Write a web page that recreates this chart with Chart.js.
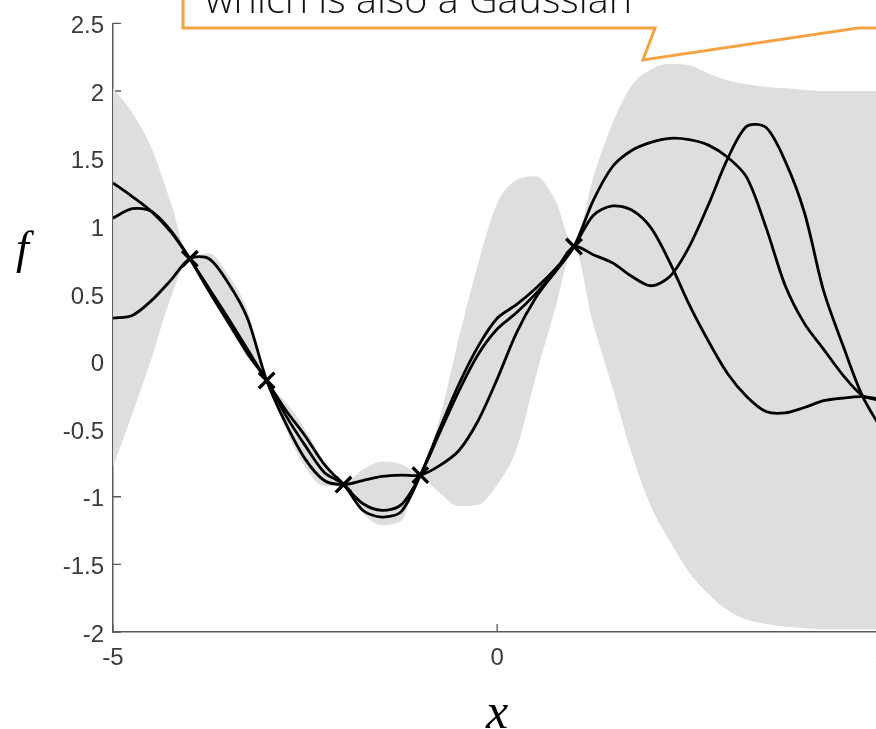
<!DOCTYPE html>
<html>
<head>
<meta charset="utf-8">
<script src="https://cdn.jsdelivr.net/npm/chart.js@4/dist/chart.umd.min.js"></script>
<style>
  html, body { margin: 0; padding: 0; background: #fff; overflow: hidden; }
  #wrap { position: relative; width: 876px; height: 729px; overflow: hidden; }
  #plot { position: absolute; left: 0; top: 0; }
  .lab { position: absolute; font-family: "Liberation Serif", serif; font-style: italic; line-height: 1; color: #000; }
  #callout { position: absolute; left: 0; top: 0; }
</style>
</head>
<body>
<div id="wrap">
  <canvas id="plot" width="900" height="729"></canvas>
  <div class="lab" id="flab" style="left:16px; top:225px; font-size:46px;">f</div>
  <div class="lab" id="xlab" style="left:467px; top:686px; width:60px; text-align:center; font-size:50px;">x</div>
  <svg id="callout" width="876" height="80">
    <path d="M183,-10 L183,28 L655,28 L643,60 L858,28 L890,28" fill="none" stroke="#f3a343" stroke-width="3" stroke-linejoin="miter"/>
    <text x="205" y="13" font-family="Open Sans" font-weight="300" font-size="38" textLength="427" lengthAdjust="spacingAndGlyphs" fill="#111">which is also a Gaussian</text>
  </svg>
</div>
<script>
// grid of test inputs
const xGrid = [-5, -4.75, -4.5, -4.25, -4, -3.75, -3.5, -3.25, -3, -2.75, -2.5, -2.25, -2,
  -1.75, -1.5, -1.25, -1, -0.75, -0.5, -0.25, 0, 0.25, 0.5, 0.75, 1, 1.25, 1.5, 1.75, 2,
  2.25, 2.5, 2.75, 3, 3.25, 3.5, 3.75, 4, 4.25, 4.5, 4.75, 5];

// shaded band (mean +/- 2 sd)
const bandUpper = [2.02, 1.84, 1.58, 1.18, 0.77, 0.80, 0.64, 0.38, -0.13, -0.30, -0.50, -0.74, -0.90,
  -0.80, -0.74, -0.76, -0.83, -0.42, 0.17, 0.72, 1.17, 1.34, 1.37, 1.20, 0.86, 1.36, 1.76, 2.04, 2.16,
  2.20, 2.19, 2.13, 2.08, 2.05, 2.03, 2.02, 2.01, 2.00, 2.00, 2.00, 2.00];
const bandLower = [-0.78, -0.39, 0.02, 0.47, 0.75, 0.50, 0.26, 0.03, -0.15, -0.50, -0.78, -0.92, -0.92,
  -1.12, -1.21, -1.18, -0.86, -0.97, -1.07, -1.06, -0.91, -0.65, -0.12, 0.38, 0.84, 0.28, -0.19, -0.68, -1.07,
  -1.33, -1.56, -1.72, -1.84, -1.91, -1.94, -1.96, -1.97, -1.98, -1.98, -1.98, -1.98];

// posterior samples
const sample1 = [1.32, 1.22, 1.11, 0.96, 0.76, 0.54, 0.32, 0.09, -0.14, -0.36, -0.55, -0.76, -0.91,
  -1.05, -1.10, -1.06, -0.84, -0.53, -0.22, 0.05, 0.24, 0.36, 0.50, 0.66, 0.85, 1.19, 1.44, 1.56, 1.62,
  1.65, 1.64, 1.60, 1.51, 1.36, 0.99, 0.56, 0.28, 0.09, -0.10, -0.25, -0.29];
const sample2 = [1.06, 1.13, 1.11, 0.97, 0.76, 0.52, 0.29, 0.06, -0.14, -0.40, -0.62, -0.82, -0.91,
  -1.10, -1.15, -1.11, -0.84, -0.50, -0.17, 0.11, 0.32, 0.42, 0.54, 0.68, 0.85, 1.08, 1.15, 1.12, 0.99,
  0.73, 0.42, 0.15, -0.09, -0.26, -0.37, -0.38, -0.34, -0.29, -0.27, -0.26, -0.28];
const sample3 = [0.32, 0.34, 0.45, 0.60, 0.76, 0.76, 0.58, 0.32, -0.14, -0.46, -0.72, -0.88, -0.91,
  -0.88, -0.85, -0.84, -0.84, -0.77, -0.66, -0.44, -0.13, 0.21, 0.47, 0.66, 0.85, 0.79, 0.73, 0.63, 0.56,
  0.63, 0.85, 1.16, 1.50, 1.74, 1.73, 1.48, 1.10, 0.52, 0.12, -0.25, -0.50];

// observed points
const trainX = [-4, -3, -2, -1, 1];
const trainY = [0.76, -0.14, -0.91, -0.84, 0.85];

// axis ticks
const xTicks = [-5, 0, 5];
const yTicks = [-2, -1.5, -1, -0.5, 0, 0.5, 1, 1.5, 2, 2.5];

function pts(ys) {
  return xGrid.map((x, i) => ({ x: x, y: ys[i] }));
}

function sampleLine(ys) {
  return {
    data: pts(ys),
    borderColor: "#000",
    borderWidth: 2.8,
    pointRadius: 0,
    fill: false,
    tension: 0.3,
    order: 2,
  };
}

const inwardTicks = {
  id: "inwardTicks",
  beforeDatasetsDraw(chart) {
    const { ctx, chartArea, scales } = chart;
    ctx.save();
    ctx.strokeStyle = "#5a5a5a";
    ctx.lineWidth = 1.3;
    ctx.beginPath();
    scales.y.ticks.forEach((t) => {
      const py = scales.y.getPixelForValue(t.value);
      ctx.moveTo(chartArea.left, py);
      ctx.lineTo(chartArea.left + 8, py);
    });
    scales.x.ticks.forEach((t) => {
      const px = scales.x.getPixelForValue(t.value);
      ctx.moveTo(px, chartArea.bottom);
      ctx.lineTo(px, chartArea.bottom - 8);
    });
    ctx.stroke();
    ctx.restore();
  },
};

const tickFont = { family: "'Liberation Sans', Arial, sans-serif", size: 24 };

new Chart(document.getElementById("plot"), {
  type: "line",
  data: {
    datasets: [
      {
        data: trainX.map((x, i) => ({ x: x, y: trainY[i] })),
        showLine: false,
        pointStyle: "crossRot",
        pointRadius: 11,
        pointBorderWidth: 3.4,
        pointBorderColor: "#000",
        order: 1,
      },
      sampleLine(sample1),
      sampleLine(sample2),
      sampleLine(sample3),
      {
        data: pts(bandUpper),
        borderWidth: 0,
        pointRadius: 0,
        backgroundColor: "#dedede",
        fill: "+1",
        cubicInterpolationMode: "monotone",
        order: 3,
      },
      {
        data: pts(bandLower),
        borderWidth: 0,
        pointRadius: 0,
        fill: false,
        cubicInterpolationMode: "monotone",
        order: 4,
      },
    ],
  },
  options: {
    responsive: false,
    animation: false,
    devicePixelRatio: 1,
    layout: { padding: { top: 22, right: 15, left: 0, bottom: 0 } },
    plugins: { legend: { display: false }, tooltip: { enabled: false } },
    scales: {
      x: {
        type: "linear",
        min: -5,
        max: 5,
        afterBuildTicks: (s) => { s.ticks = xTicks.map((v) => ({ value: v })); },
        afterFit: (s) => { s.height = 97; },
        grid: { display: false, drawTicks: false },
        border: { display: true, color: "#5a5a5a", width: 1.5 },
        ticks: { font: tickFont, color: "#3a3a3a", padding: 12, maxRotation: 0, callback: (v) => String(v) },
      },
      y: {
        type: "linear",
        min: -2,
        max: 2.5,
        afterBuildTicks: (s) => { s.ticks = yTicks.map((v) => ({ value: v })); },
        afterFit: (s) => { s.width = 113; },
        grid: { display: false, drawTicks: false },
        border: { display: true, color: "#5a5a5a", width: 1.5 },
        ticks: { font: tickFont, color: "#3a3a3a", padding: 9, labelOffset: 3, callback: (v) => String(v) },
      },
    },
  },
  plugins: [inwardTicks],
});
</script>
</body>
</html>
